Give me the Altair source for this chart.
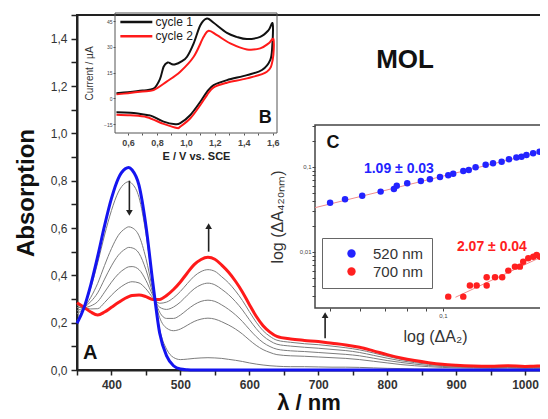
import altair as alt
import pandas as pd

FONT = "Liberation Sans"

# ---------------- Panel A : absorption spectra ----------------
wavelength = [350, 360, 370, 380, 390, 400, 410, 420, 425, 430, 440, 450, 460, 470, 480, 490, 500, 510,
              520, 530, 540, 550, 560, 570, 580, 590, 600, 610, 620, 630, 640,
              660, 680, 700, 720, 740, 760, 780, 800, 820, 840, 860, 880, 900,
              925, 950, 975, 1000, 1012, 1024]
blue_initial = [0.197, 0.262, 0.36, 0.48, 0.61, 0.725, 0.81, 0.85, 0.856, 0.845, 0.78, 0.61, 0.37, 0.155, 0.06, 0.018, 0.004, 0.001,
                0, 0, 0, 0, 0, 0, 0, 0, 0, 0, 0, 0, 0,
                0, 0, 0, 0, 0, 0, 0, 0, 0, 0, 0, 0, 0,
                0, 0, 0, 0, 0, 0]
red_final = [0.284, 0.265, 0.245, 0.232, 0.245, 0.265, 0.285, 0.303, 0.31, 0.315, 0.317, 0.31, 0.298, 0.298, 0.315, 0.34, 0.372, 0.41,
             0.445, 0.467, 0.476, 0.468, 0.443, 0.413, 0.375, 0.33, 0.277, 0.227, 0.187, 0.16, 0.142,
             0.131, 0.125, 0.12, 0.113, 0.106, 0.096, 0.081, 0.065, 0.051, 0.04, 0.031, 0.024, 0.02,
             0.017, 0.016, 0.018, 0.015, 0.016, 0.017]
gray_1 = [0.207, 0.262, 0.347, 0.453, 0.570, 0.674, 0.752, 0.790, 0.796, 0.787, 0.729, 0.577, 0.362, 0.171, 0.088, 0.053, 0.044, 0.046,
          0.049, 0.051, 0.052, 0.051, 0.049, 0.045, 0.041, 0.036, 0.030, 0.025, 0.021, 0.018, 0.016,
          0.014, 0.014, 0.013, 0.012, 0.012, 0.011, 0.009, 0.007, 0.006, 0.004, 0.003, 0.003, 0.002,
          0.002, 0.002, 0.002, 0.002, 0.002, 0.002]
gray_2 = [0.237, 0.263, 0.307, 0.366, 0.442, 0.513, 0.569, 0.598, 0.605, 0.601, 0.567, 0.472, 0.337, 0.221, 0.177, 0.166, 0.173, 0.189,
          0.205, 0.215, 0.219, 0.215, 0.204, 0.190, 0.173, 0.152, 0.127, 0.104, 0.086, 0.074, 0.065,
          0.060, 0.058, 0.055, 0.052, 0.049, 0.044, 0.037, 0.030, 0.023, 0.018, 0.014, 0.011, 0.009,
          0.008, 0.007, 0.008, 0.007, 0.007, 0.007]
gray_3 = [0.251, 0.264, 0.289, 0.326, 0.384, 0.440, 0.485, 0.511, 0.518, 0.516, 0.493, 0.424, 0.325, 0.244, 0.218, 0.218, 0.232, 0.255,
          0.276, 0.290, 0.295, 0.290, 0.275, 0.256, 0.233, 0.205, 0.172, 0.141, 0.116, 0.099, 0.088,
          0.081, 0.078, 0.074, 0.070, 0.066, 0.060, 0.050, 0.040, 0.032, 0.025, 0.019, 0.015, 0.012,
          0.011, 0.010, 0.011, 0.009, 0.010, 0.010]
gray_4 = [0.264, 0.264, 0.271, 0.289, 0.329, 0.371, 0.406, 0.429, 0.436, 0.437, 0.424, 0.379, 0.315, 0.265, 0.256, 0.266, 0.287, 0.316,
          0.343, 0.360, 0.367, 0.360, 0.341, 0.318, 0.289, 0.254, 0.213, 0.175, 0.144, 0.123, 0.109,
          0.101, 0.096, 0.092, 0.087, 0.082, 0.074, 0.062, 0.050, 0.039, 0.031, 0.024, 0.018, 0.015,
          0.013, 0.012, 0.014, 0.012, 0.012, 0.013]
gray_5 = [0.274, 0.265, 0.258, 0.259, 0.285, 0.316, 0.343, 0.363, 0.370, 0.373, 0.368, 0.343, 0.306, 0.282, 0.287, 0.305, 0.332, 0.365,
          0.396, 0.416, 0.424, 0.417, 0.394, 0.368, 0.334, 0.294, 0.247, 0.202, 0.166, 0.142, 0.126,
          0.117, 0.111, 0.107, 0.101, 0.094, 0.085, 0.072, 0.058, 0.045, 0.036, 0.028, 0.021, 0.018,
          0.015, 0.014, 0.016, 0.013, 0.014, 0.015]

arrow_wl = [426, 541, 710]
arrow_tail = [0.80, 0.50, 0.134]
arrow_head = [0.664, 0.608, 0.232]
arrow_shape = ["triangle-down", "triangle-up", "triangle-up"]

# ---------------- Inset B : cyclic voltammograms ----------------
cv1_E = [0.52, 0.60, 0.70, 0.777, 0.82, 0.846, 0.874, 0.90, 0.927, 0.97, 1.008, 1.054, 1.10, 1.146, 1.192, 1.284, 1.35, 1.422,
         1.514, 1.572, 1.60, 1.597, 1.583, 1.526, 1.422, 1.284, 1.192, 1.146, 1.10, 1.031, 0.961, 0.927, 0.846, 0.77,
         0.731, 0.616, 0.52]
cv1_I = [2.9, 3.6, 4.6, 5.6, 11.0, 18.4, 20.9, 20.0, 19.8, 21.5, 24.2, 32.0, 42.6, 46.5, 44.0, 38.1, 35.8, 34.5,
         35.8, 39.7, 43.5, 30.0, 22.3, 16.5, 13.5, 10.6, 7.7, 3.8, -2.0, -9.7, -14.5, -15.1, -13.6, -10.5,
         -9.7, -8.4, -8.1]
cv2_E = [0.52, 0.60, 0.70, 0.777, 0.867, 0.961, 1.054, 1.123, 1.158, 1.215, 1.307, 1.422, 1.514, 1.572, 1.606,
         1.60, 1.56, 1.422, 1.284, 1.192, 1.146, 1.10, 1.031, 0.961, 0.938, 0.846, 0.731, 0.616, 0.52]
cv2_I = [2.3, 3.0, 4.0, 4.8, 9.7, 15.5, 24.2, 35.8, 39.3, 36.8, 32.0, 28.5, 29.1, 32.0, 34.3,
         22.3, 15.5, 11.6, 9.1, 6.4, 1.9, -3.9, -11.6, -16.5, -17.3, -14.9, -11.0, -9.9, -9.5]
cv_labels = ["cycle 1", "cycle 2"]

# ---------------- Inset C : log-log kinetics ----------------
c520_x = [0.050, 0.0548, 0.0609, 0.0682, 0.074, 0.0753, 0.0803, 0.0873, 0.0923, 0.0982, 0.1033, 0.1065,
          0.1133, 0.1172, 0.1222, 0.130, 0.136, 0.1434, 0.150, 0.157, 0.162, 0.167, 0.174, 0.181]
c520_y = [0.038, 0.0417, 0.046, 0.0513, 0.0551, 0.0603, 0.0643, 0.0684, 0.0716, 0.0763, 0.0798, 0.0835,
          0.0897, 0.0922, 0.099, 0.106, 0.1105, 0.1154, 0.123, 0.129, 0.132, 0.138, 0.145, 0.151]
c700_x = [0.1033, 0.1133, 0.118, 0.123, 0.1308, 0.1308, 0.1377, 0.1439, 0.1494, 0.1556, 0.1604, 0.1637,
          0.1689, 0.1741, 0.1778, 0.1815]
c700_y = [0.00298, 0.00298, 0.00402, 0.00402, 0.00402, 0.00504, 0.00504, 0.00504, 0.00603, 0.00672, 0.00672,
          0.00769, 0.00843, 0.0088, 0.0092, 0.0088]
fit520_x = [0.0456, 0.2]
fit520_y = [0.0332, 0.166]
fit700_x = [0.108, 0.2]
fit700_y = [0.00293, 0.0105]
series_names = ["520 nm", "700 nm"]

# ================= scales & axes =================
mx = alt.Scale(domain=[350, 1021.8], nice=False, zero=False)
my = alt.Scale(domain=[0, 1.5], nice=False, zero=False)
bx = alt.Scale(domain=[0.51, 1.63], range=[38, 200], nice=False, zero=False)
by = alt.Scale(domain=[-20.2, 49.7], range=[118, -2], nice=False, zero=False)
cx = alt.Scale(type="log", domain=[0.04557, 0.1815], range=[238, 463], nice=False)
cy = alt.Scale(type="log", domain=[0.00219, 0.312], range=[293, 110], nice=False)

main_x_axis = alt.Axis(orient="bottom", values=list(range(350, 1001, 50)),
                       labelExpr="datum.value % 100 == 0 ? format(datum.value, 'd') : ''",
                       labelFontSize=12, labelFontWeight="bold", labelColor="#333", labelPadding=4,
                       labelOverlap=False, labelBound=False, labelFlush=False,
                       tickSize=5, tickWidth=1.5, tickColor="#222",
                       domainColor="#222", domainWidth=2, grid=False,
                       title="λ / nm", titleFontSize=22, titleFontWeight="bold", titleColor="#111",
                       titlePadding=2)
main_y_axis = alt.Axis(orient="left", values=[round(0.1 * i, 1) for i in range(16)],
                       labelExpr="round(datum.value * 10) % 2 == 0 ? replace(format(datum.value, '.1f'), '.', ',') : ''",
                       labelFontSize=12, labelColor="#333", labelPadding=4, labelOverlap=False,
                       tickSize=6, tickWidth=1.5, tickColor="#222", domainColor="#222", domainWidth=2,
                       grid=False, title="Absorption", titleFontSize=24, titleFontWeight="bold",
                       titleColor="#111", titlePadding=12)

b_x_axis = alt.Axis(orient="bottom", offset=-237, values=[round(0.6 + 0.1 * i, 1) for i in range(11)],
                    labelExpr="round(datum.value * 10) % 2 == 0 ? replace(format(datum.value, '.1f'), '.', ',') : ''",
                    labelFontSize=9, labelFontWeight="bold", labelColor="#444", labelPadding=3,
                    labelOverlap=False, tickSize=2, tickColor="#555", domain=False, grid=False,
                    title="E / V vs. SCE", titleFontSize=11, titleFontWeight="bold", titleColor="#222",
                    titlePadding=3)
b_y_axis = alt.Axis(orient="left", offset=-38, values=[-15, 0, 15, 30, 45],
                    labelFontSize=5, labelColor="#444", labelPadding=1, tickSize=2, tickColor="#555",
                    domain=False, grid=False, title="Current / µA", titleFontSize=10,
                    titleFontWeight="normal", titleColor="#333", titlePadding=9)

c_x_axis = alt.Axis(orient="bottom", offset=-62, values=[0.05, 0.06, 0.07, 0.08, 0.09, 0.1],
                    labelExpr="datum.value == 0.1 ? '0,1' : ''", labelFontSize=6, labelColor="#444",
                    labelPadding=1, labelOverlap=False, tickSize=3, tickColor="#444", domain=False, grid=False,
                    title="log (ΔA₂)", titleFontSize=16, titleFontWeight="normal", titleColor="#333",
                    titlePadding=10, titleX=358)
c_y_axis = alt.Axis(orient="left", offset=-238,
                    values=[0.003, 0.004, 0.005, 0.006, 0.007, 0.008, 0.009, 0.01, 0.02, 0.03, 0.04, 0.05,
                            0.06, 0.07, 0.08, 0.09, 0.1, 0.2, 0.3],
                    labelExpr="datum.value == 0.1 ? '0,1' : (datum.value == 0.01 ? '0,01' : '')",
                    labelFontSize=6, labelColor="#444", labelPadding=1, labelOverlap=False, tickSize=3,
                    tickColor="#444", domain=False, grid=False, title="log (ΔA₄₂₀ₙₘ)", titleFontSize=16,
                    titleFontWeight="normal", titleColor="#333", titlePadding=14)


def MX(f="x"):
    return alt.X(f + ":Q", scale=mx, axis=main_x_axis)


def MY(f="y"):
    return alt.Y(f + ":Q", scale=my, axis=main_y_axis)


# ================= main panel =================
frame_df = pd.DataFrame({"x": [350], "x2": [1100], "y": [0], "y2": [1.5]})
main_frame = alt.Chart(frame_df).mark_rect(fillOpacity=0, stroke="#222", strokeWidth=2).encode(
    x=MX(), x2="x2:Q", y=MY(), y2="y2:Q")

gray_rows = []
for k, g in enumerate([gray_1, gray_2, gray_3, gray_4, gray_5]):
    for w, v in zip(wavelength, g):
        gray_rows.append({"x": w, "y": v, "c": k})
gray_df = pd.DataFrame(gray_rows)
gray_lines = alt.Chart(gray_df).mark_line(color="#7c7c7c", strokeWidth=1, interpolate="monotone").encode(
    x=MX(), y=MY(), detail="c:N")

red_line = alt.Chart(pd.DataFrame({"x": wavelength, "y": red_final})).mark_line(
    color="#ff1a1a", strokeWidth=3, interpolate="monotone").encode(x=MX(), y=MY())
blue_line = alt.Chart(pd.DataFrame({"x": wavelength, "y": blue_initial})).mark_line(
    color="#1414f0", strokeWidth=3, interpolate="monotone").encode(x=MX(), y=MY())

arrow_df = pd.DataFrame({"x": arrow_wl, "y": arrow_tail, "y2": arrow_head, "shape": arrow_shape})
arrow_rules = alt.Chart(arrow_df).mark_rule(color="#222", strokeWidth=1.6).encode(x=MX(), y=MY(), y2="y2:Q")
arrow_heads = alt.Chart(arrow_df).mark_point(filled=True, color="#222", size=45, opacity=1).encode(
    x=MX(), y=MY("y2"), shape=alt.Shape("shape:N", scale=None))

main_text_df = pd.DataFrame({"x": [369, 826], "y": [0.073, 1.31], "t": ["A", "MOL"], "s": [20, 26]})
main_text = alt.Chart(main_text_df).mark_text(fontWeight="bold", color="#111", font=FONT).encode(
    x=MX(), y=MY(), text="t:N", size=alt.Size("s:Q", scale=None))

main = alt.layer(main_frame, gray_lines, red_line, blue_line, arrow_rules, arrow_heads, main_text)

# ================= inset B =================
def BX(f="x"):
    return alt.X(f + ":Q", scale=bx, axis=b_x_axis)


def BY(f="y"):
    return alt.Y(f + ":Q", scale=by, axis=b_y_axis)


b_frame = alt.Chart(pd.DataFrame({"x": [0.51], "x2": [1.63], "y": [-20.2], "y2": [49.7]})).mark_rect(
    fillOpacity=0, stroke="#555", strokeWidth=1).encode(x=BX(), x2="x2:Q", y=BY(), y2="y2:Q")
cv1 = alt.Chart(pd.DataFrame({"x": cv1_E, "y": cv1_I, "o": list(range(len(cv1_E)))})).mark_line(
    color="#111", strokeWidth=2, interpolate="cardinal").encode(x=BX(), y=BY(), order="o:Q")
cv2 = alt.Chart(pd.DataFrame({"x": cv2_E, "y": cv2_I, "o": list(range(len(cv2_E)))})).mark_line(
    color="#ff1a1a", strokeWidth=2, interpolate="cardinal").encode(x=BX(), y=BY(), order="o:Q")
b_leg_df = pd.DataFrame({"x": [0.547, 0.547], "x2": [0.768, 0.768], "y": [44.4, 36.2],
                         "c": ["#111", "#ff1a1a"], "tx": [0.79, 0.79], "t": cv_labels})
b_leg_lines = alt.Chart(b_leg_df).mark_rule(strokeWidth=2.5).encode(
    x=BX(), x2="x2:Q", y=BY(), color=alt.Color("c:N", scale=None))
b_leg_text = alt.Chart(b_leg_df).mark_text(align="left", baseline="middle", fontSize=12, color="#222",
                                          font=FONT).encode(x=BX("tx"), y=BY(), text="t:N")
b_label = alt.Chart(pd.DataFrame({"x": [1.549], "y": [-11.5], "t": ["B"]})).mark_text(
    fontSize=18, fontWeight="bold", color="#111", font=FONT).encode(x=BX(), y=BY(), text="t:N")
inset_b = alt.layer(b_frame, cv1, cv2, b_leg_lines, b_leg_text, b_label)

# ================= inset C =================
def CX(f="x"):
    return alt.X(f + ":Q", scale=cx, axis=c_x_axis)


def CY(f="y"):
    return alt.Y(f + ":Q", scale=cy, axis=c_y_axis)


c_frame = alt.Chart(pd.DataFrame({"x": [0.04557], "x2": [0.25], "y": [0.00219], "y2": [0.312]})).mark_rect(
    fillOpacity=0, stroke="#444", strokeWidth=1.5).encode(x=CX(), x2="x2:Q", y=CY(), y2="y2:Q")
fit_df = pd.DataFrame({"x": fit520_x + fit700_x, "y": fit520_y + fit700_y, "s": ["a", "a", "b", "b"]})
c_fit = alt.Chart(fit_df).mark_line(color="#f28b8b", strokeWidth=1).encode(x=CX(), y=CY(), detail="s:N")
pts_df = pd.DataFrame({"x": c520_x + c700_x, "y": c520_y + c700_y,
                       "s": [series_names[0]] * len(c520_x) + [series_names[1]] * len(c700_x)})
c_pts = alt.Chart(pts_df).mark_circle(size=42, opacity=1).encode(
    x=CX(), y=CY(),
    color=alt.Color("s:N", scale=alt.Scale(domain=series_names, range=["#2323ff", "#ff2020"]),
                    legend=alt.Legend(orient="none", legendX=245, legendY=223, title=None,
                                      symbolType="circle", symbolSize=70, symbolStrokeWidth=0,
                                      labelFontSize=15, labelColor="#333", labelFont=FONT,
                                      strokeColor="#666", fillColor="white", padding=8,
                                      symbolOffset=14, labelOffset=14, rowPadding=2)))
c_text_df = pd.DataFrame({"x": [0.0763, 0.1351], "y": [0.0947, 0.01146],
                          "t": ["1.09 ± 0.03", "2.07 ± 0.04"], "c": ["#2323ff", "#ff2020"]})
c_text = alt.Chart(c_text_df).mark_text(fontSize=14, fontWeight="bold", font=FONT).encode(
    x=CX(), y=CY(), text="t:N", color=alt.Color("c:N", scale=None))
c_label = alt.Chart(pd.DataFrame({"x": [0.0509], "y": [0.191], "t": ["C"]})).mark_text(
    fontSize=18, fontWeight="bold", color="#111", font=FONT).encode(x=CX(), y=CY(), text="t:N")
inset_c = alt.layer(c_frame, c_fit, c_pts, c_text, c_label)

chart = alt.layer(main, inset_b, inset_c).resolve_scale(
    x="independent", y="independent"
).properties(
    width=463, height=355,
    autosize=alt.AutoSizeParams(type="none"),
    padding={"left": 69, "top": 7, "right": 0, "bottom": 49},
).configure_view(stroke=None).configure_axis(labelFont=FONT, titleFont=FONT).configure_text(font=FONT)

chart.save("out.html", embed_options={"renderer": "svg", "actions": False})
